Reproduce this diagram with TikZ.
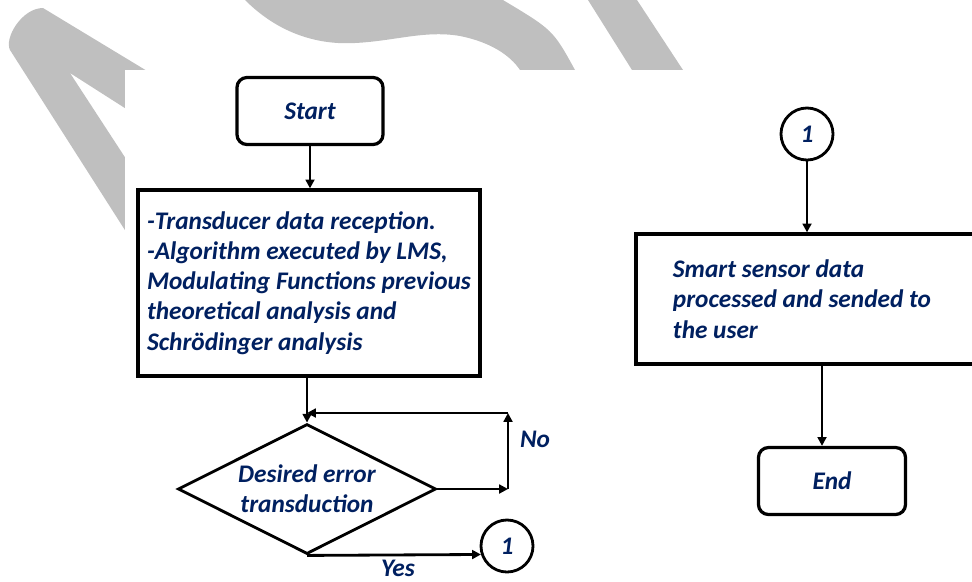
\documentclass[tikz,border=0pt]{standalone}
\usepackage{fontspec}
\setmainfont{Carlito}
\usetikzlibrary{shapes.geometric,arrows.meta}
\definecolor{navy}{RGB}{0,32,96}
\definecolor{wmgray}{RGB}{191,191,191}

\begin{document}
\begin{tikzpicture}[x=0.025cm,y=-0.025cm,
  every node/.style={font=\fontsize{18}{21.5}\selectfont\bfseries\itshape,text=navy},
  term/.style={draw=black,line width=2.3pt,rounded corners=0.25cm,minimum width=3.65cm,minimum height=1.675cm},
  box/.style={draw=black,line width=2.3pt,align=left},
  decision/.style={draw=black,diamond,line width=2pt,aspect=2,inner sep=0pt,minimum width=6.45cm,minimum height=3.25cm,align=center},
  conn/.style={draw=black,circle,line width=2pt,minimum size=1.3cm,inner sep=0pt},
  arr/.style={line width=2pt,-{Triangle[length=2.2mm,width=2.2mm]}}]
   \clip (0,0) rectangle (972,581);
   % gray swoosh behind the chart
   \fill[wmgray] (10,50) .. controls (4,38) and (22,8) .. (43,8) -- (200,103) -- (200,156) -- (70,73) -- (160,211) -- (160,285) -- cycle;
   \fill[wmgray] (245,0) .. controls (280,35) and (320,45) .. (355,43) .. controls (395,41) and (425,30) .. (460,36) .. controls (490,42) and (510,55) .. (520,70) -- (575,70) .. controls (553,30) .. (503,0) -- cycle;
   \fill[wmgray] (588,0) -- (637,0) -- (683,70) -- (632,70) -- cycle;
   \fill[white] (125,70) rectangle (980,590);

   \node[term] (start) at (310,111) {Start};
   \node[box,minimum width=8.55cm,minimum height=4.65cm] (proc) at (309,283) {-Transducer data reception.\\ -Algorithm executed by LMS,\\ Modulating Functions previous\\ theoretical analysis and\\ Schrödinger analysis};
   \node[decision] (dec) at (307,489) {Desired error\\ transduction};
   \node[conn] (c1) at (507,546) {1};
   \node[conn] (c2) at (807,134) {1};
   \node[box,align=flush left,text width=7.25cm,inner xsep=0.925cm,minimum height=3.25cm] (smart) at (818,299) {Smart sensor data\\ processed and sended to\\ the user};
   \node[term,minimum width=3.675cm] (stop) at (832,481) {End};

   \draw[arr] (start) -- (start |- proc.north);
   \draw[arr] (proc.south -| dec.north) -- (dec.north);
   \coordinate (noR) at (508,489);
   \coordinate (noT) at (508,413);
   \draw[arr] (dec.east) -- (noR);
   \draw[arr] (noR) -- (noT);
   \draw[arr] (noT) -- (noT -| dec.north);
   \node (no) at (535,439) {No};
   \draw[arr] (dec.south) -- (c1.198);
   \node[anchor=base,inner sep=1pt] (yes) at (398,576) {Yes};
   \draw[arr] (c2) -- (c2 |- smart.north);
   \draw[arr] ([xshift=-0.25cm]stop.north |- smart.south) -- ([xshift=-0.25cm]stop.north);
\end{tikzpicture}
\end{document}
